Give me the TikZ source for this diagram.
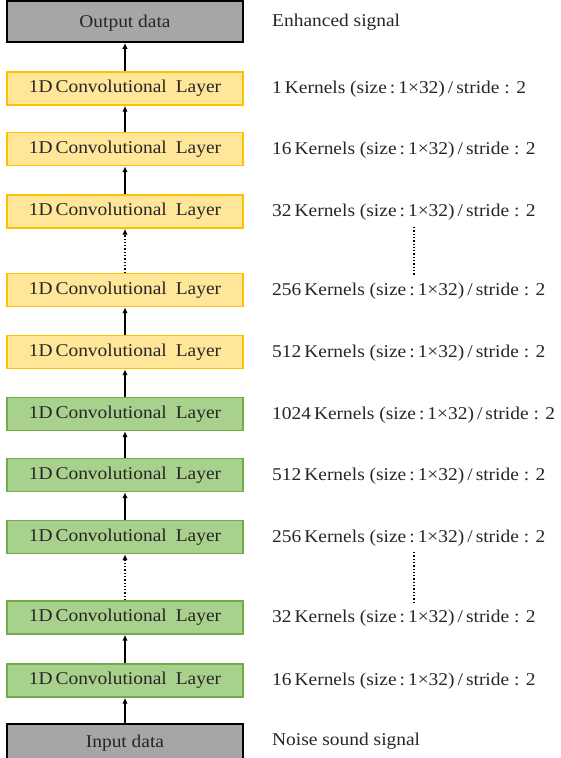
\documentclass[tikz,border=0pt]{standalone}
\usepackage{fontspec}
\setmainfont[FakeStretch=1.08]{Liberation Serif}
\usetikzlibrary{arrows.meta}
\definecolor{yfill}{HTML}{FFE699}
\definecolor{ydraw}{HTML}{FFC000}
\definecolor{gfill}{HTML}{A9D18E}
\definecolor{gdraw}{HTML}{70AD47}
\definecolor{dfill}{HTML}{A6A6A6}
\begin{document}
\begin{tikzpicture}[x=1pt,y=-1pt,
  every node/.style={font=\fontsize{18}{22}\selectfont, text=black!85},
  box/.style={minimum width=236pt, minimum height=33pt, inner sep=0pt, line width=1.4pt},
  ybox/.style={box, fill=yfill, draw=ydraw},
  gbox/.style={box, fill=gfill, draw=gdraw},
  dbox/.style={box, fill=dfill, draw=black, line width=1.8pt},
  lab/.style={anchor=west, inner sep=0pt, yshift=-1pt},
  arr/.style={-{Latex[length=6pt,width=5.5pt]}, line width=1.3pt, black},
  darr/.style={arr, dotted},
  vdots/.style={line width=1.3pt, dotted}
]
\useasboundingbox (0,0) rectangle (560,758);
\clip (0,0) rectangle (560,758);
\node[dbox, minimum height=41pt, text depth=1pt] (out) at (125,21.5) {Output data};
\node[ybox] (y1) at (125,88.5) {1D\,Convolutional\enspace Layer};
\node[ybox] (y2) at (125,149) {1D\,Convolutional\enspace Layer};
\node[ybox] (y3) at (125,211.5) {1D\,Convolutional\enspace Layer};
\node[ybox] (y4) at (125,290) {1D\,Convolutional\enspace Layer};
\node[ybox] (y5) at (125,352) {1D\,Convolutional\enspace Layer};
\node[gbox] (g1) at (125,414) {1D\,Convolutional\enspace Layer};
\node[gbox] (g2) at (125,475) {1D\,Convolutional\enspace Layer};
\node[gbox] (g3) at (125,537) {1D\,Convolutional\enspace Layer};
\node[gbox] (g4) at (125,617.5) {1D\,Convolutional\enspace Layer};
\node[gbox] (g5) at (125,680.5) {1D\,Convolutional\enspace Layer};
\node[dbox, minimum height=38pt] (in) at (125,743) {Input data};

\draw[arr] (in) -- (g5);
\draw[arr] (g5) -- (g4);
\draw[darr] (g4) -- (g3);
\draw[arr] (g3) -- (g2);
\draw[arr] (g2) -- (g1);
\draw[arr] (g1) -- (y5);
\draw[arr] (y5) -- (y4);
\draw[darr] (y4) -- (y3);
\draw[arr] (y3) -- (y2);
\draw[arr] (y2) -- (y1);
\draw[arr] (y1) -- (out);

\node[lab] (tout) at (272,21.5) {Enhanced signal};
\node[lab] (t1) at (272,88.5) {1\,Kernels (size\,:\,1×32)\,/\,stride : 2};
\node[lab] (t2) at (272,149) {16\,Kernels (size\,:\,1×32)\,/\,stride : 2};
\node[lab] (t3) at (272,211.5) {32\,Kernels (size\,:\,1×32)\,/\,stride : 2};
\node[lab] (t4) at (272,290) {256\,Kernels (size\,:\,1×32)\,/\,stride : 2};
\node[lab] (t5) at (272,352) {512\,Kernels (size\,:\,1×32)\,/\,stride : 2};
\node[lab] (t6) at (272,414) {1024\,Kernels (size\,:\,1×32)\,/\,stride : 2};
\node[lab] (t7) at (272,475) {512\,Kernels (size\,:\,1×32)\,/\,stride : 2};
\node[lab] (t8) at (272,537) {256\,Kernels (size\,:\,1×32)\,/\,stride : 2};
\node[lab] (t9) at (272,617.5) {32\,Kernels (size\,:\,1×32)\,/\,stride : 2};
\node[lab] (t10) at (272,680.5) {16\,Kernels (size\,:\,1×32)\,/\,stride : 2};
\node[lab] (tin) at (272,740.5) {Noise sound signal};

\coordinate (d1a) at (414,227);
\coordinate (d1b) at (414,275);
\coordinate (d2a) at (414,552);
\coordinate (d2b) at (414,603);
\draw[vdots] (d1a) -- (d1b);
\draw[vdots] (d2a) -- (d2b);
\end{tikzpicture}
\end{document}
